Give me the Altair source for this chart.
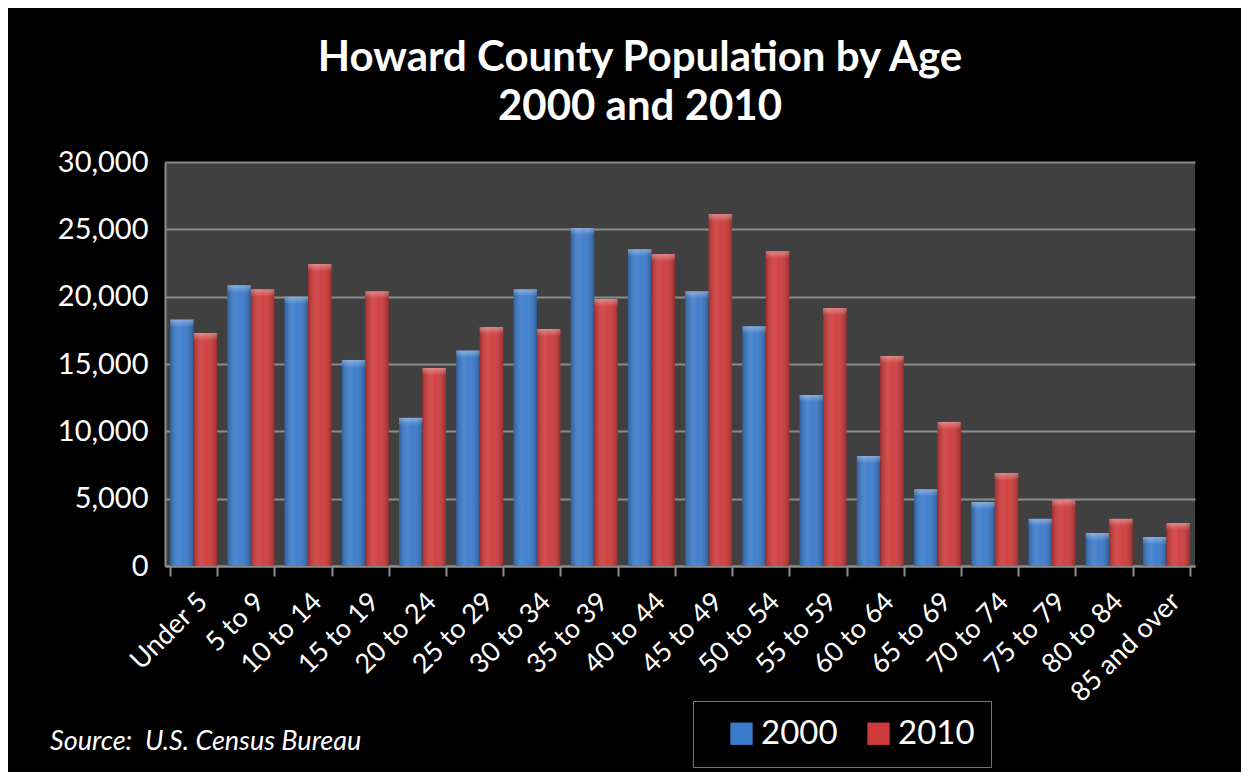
import altair as alt
import pandas as pd

categories = ["Under 5", "5 to 9", "10 to 14", "15 to 19", "20 to 24", "25 to 29",
              "30 to 34", "35 to 39", "40 to 44", "45 to 49", "50 to 54", "55 to 59",
              "60 to 64", "65 to 69", "70 to 74", "75 to 79", "80 to 84", "85 and over"]
pop_2000 = [18300, 20850, 20000, 15300, 11000, 16000, 20550, 25100, 23530, 20400,
            17800, 12700, 8170, 5700, 4750, 3500, 2450, 2150]
pop_2010 = [17300, 20550, 22420, 20400, 14700, 17740, 17600, 19820, 23160, 26130,
            23380, 19150, 15600, 10700, 6900, 4900, 3500, 3200]
years = ["2000", "2010"]
colors = ["#3b7bcb", "#cf3b3b"]
source_text = ["Source:\u00a0\u00a0U.S. Census Bureau"]

rows = []
for c, a, b in zip(categories, pop_2000, pop_2010):
    rows.append({"Age": c, "Year": "2000", "Population": a})
    rows.append({"Age": c, "Year": "2010", "Population": b})
df = pd.DataFrame(rows)

FONT = "Lato"

x_enc = alt.X("Age:N", sort=categories, title=None,
              scale=alt.Scale(paddingInner=0.18, paddingOuter=0.09),
              axis=alt.Axis(labelAngle=-45, labelFontSize=27, labelColor="white",
                            labelFont=FONT, tickBand="extent", tickColor="#8c8c8c",
                            tickWidth=2, tickSize=10, domainColor="#8c8c8c",
                            domainWidth=2, grid=False, labelPadding=12))
y_enc = alt.Y("Population:Q", title=None,
              scale=alt.Scale(domain=[0, 30000], nice=False),
              axis=alt.Axis(values=[0, 5000, 10000, 15000, 20000, 25000, 30000],
                            format=",.0f", labelFontSize=29, labelColor="white",
                            labelFont=FONT, ticks=False, labelPadding=17,
                            gridColor="#8c8c8c", gridWidth=2,
                            domainColor="#8c8c8c", domainWidth=2))
xoff = alt.XOffset("Year:N", scale=alt.Scale(domain=years, paddingInner=0.0))

base = alt.Chart(df)

bars = base.mark_bar().encode(
    x=x_enc, y=y_enc, xOffset=xoff,
    color=alt.Color("Year:N", scale=alt.Scale(domain=years, range=colors),
                    legend=alt.Legend(title=None, orient="none", legendX=528, legendY=539,
                                      direction="horizontal", symbolType="square",
                                      symbolSize=500, symbolOpacity=1,
                                      symbolStrokeWidth=0,
                                      labelFontSize=33, labelColor="white",
                                      labelFont=FONT, labelOffset=3,
                                      columnPadding=8, padding=16,
                                      symbolOffset=16,
                                      strokeColor="#4a7ebb", fillColor="black")),
)

shade = base.mark_bar(
    fill=alt.LinearGradient(
        gradient="linear", x1=0, x2=1, y1=0, y2=0,
        stops=[alt.GradientStop(offset=0, color="rgba(0,0,0,0.22)"),
               alt.GradientStop(offset=0.35, color="rgba(255,255,255,0.10)"),
               alt.GradientStop(offset=0.55, color="rgba(255,255,255,0.04)"),
               alt.GradientStop(offset=1, color="rgba(0,0,0,0.25)")])
).encode(x=alt.X("Age:N", sort=categories), y="Population:Q", xOffset=xoff)

top = base.transform_calculate(
    cap="datum.Population - 550"
).mark_bar(
    fill=alt.LinearGradient(
        gradient="linear", x1=0, x2=0, y1=0, y2=1,
        stops=[alt.GradientStop(offset=0, color="rgba(255,255,255,0.35)"),
               alt.GradientStop(offset=1, color="rgba(255,255,255,0.0)")])
).encode(x=alt.X("Age:N", sort=categories), y="Population:Q", y2="cap:Q", xOffset=xoff)

source = alt.Chart(pd.DataFrame({"t": source_text})).mark_text(
    align="left", baseline="alphabetic", fontSize=27, fontStyle="italic",
    font=FONT, color="white"
).encode(text="t:N", x=alt.value(-115), y=alt.value(588))

chart = alt.layer(bars, shade, top, source).properties(
    width=1030, height=404,
    background="black",
    padding={"left": 157, "top": 154, "right": 46, "bottom": 206},
    autosize=alt.AutoSizeParams(type="none"),
    title=alt.TitleParams(["Howard County Population by Age", "2000 and 2010"],
                          fontSize=42, font=FONT, fontWeight="bold", color="white",
                          lineHeight=49, anchor="middle", offset=19, dx=-40),
).configure_view(fill="#404040", stroke=None)

chart.save("out.html", embed_options={"renderer": "svg", "actions": False})
